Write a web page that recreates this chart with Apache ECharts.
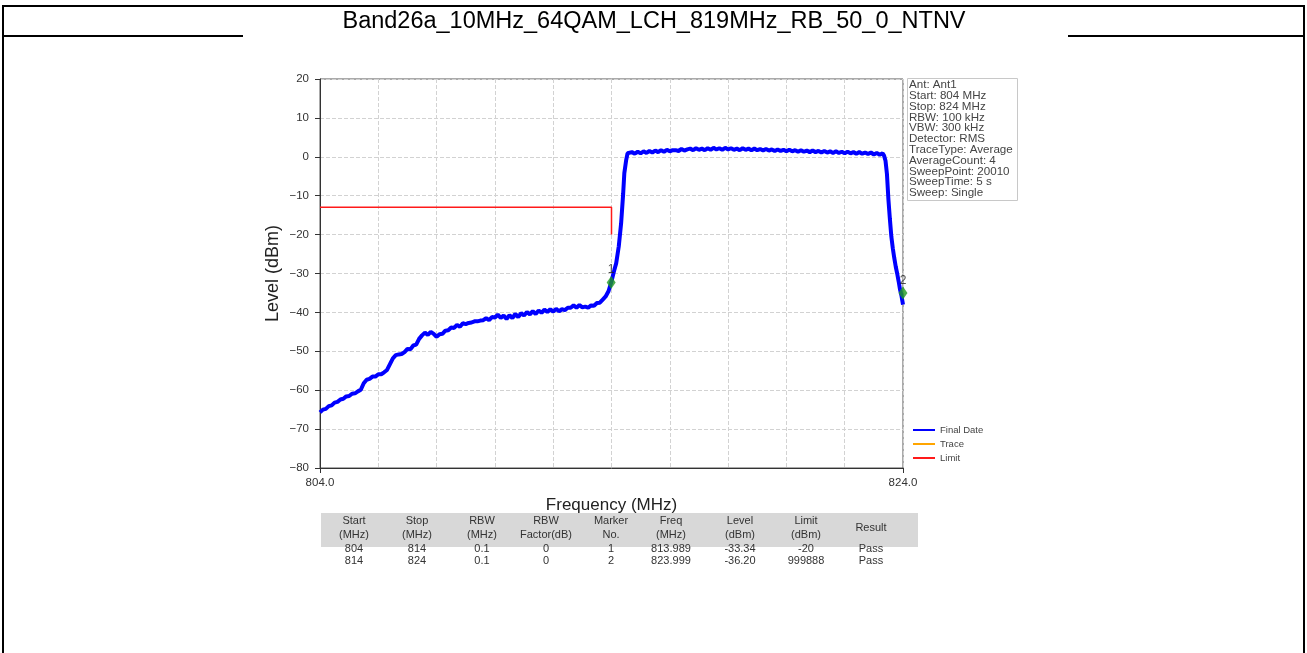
<!DOCTYPE html>
<html>
<head>
<meta charset="utf-8">
<script src="https://cdn.jsdelivr.net/npm/echarts@6/dist/echarts.min.js"></script>
<style>
html,body{margin:0;padding:0;background:#fff;}
#chart{width:1307px;height:653px;}
</style>
</head>
<body>
<div id="chart"></div>
<script>
// ---------------- DATA ----------------
var chartTitle = 'Band26a_10MHz_64QAM_LCH_819MHz_RB_50_0_NTNV';

var traceFreq = [
  804.0,804.1,804.2,804.3,804.4,804.5,804.6,804.7,804.8,804.9,
  805.0,805.1,805.2,805.3,805.4,805.5,805.6,805.7,805.8,805.9,
  806.0,806.1,806.2,806.3,806.4,806.5,806.6,806.7,806.8,806.9,
  807.0,807.1,807.2,807.3,807.4,807.5,807.6,807.7,807.8,807.9,
  808.0,808.1,808.2,808.3,808.4,808.5,808.6,808.7,808.8,808.9,
  809.0,809.1,809.2,809.3,809.4,809.5,809.6,809.7,809.8,809.9,
  810.0,810.1,810.2,810.3,810.4,810.5,810.6,810.7,810.8,810.9,
  811.0,811.1,811.2,811.3,811.4,811.5,811.6,811.7,811.8,811.9,
  812.0,812.1,812.2,812.3,812.4,812.5,812.6,812.7,812.8,812.9,
  813.0,813.1,813.2,813.3,813.4,813.5,813.6,813.7,813.8,813.9,
  814.0,814.1,814.16,814.25,814.33,814.4,814.44,814.5,814.55,814.6,
  814.7,814.8,814.9,815.0,815.1,815.2,815.3,815.4,815.5,815.6,
  815.7,815.8,815.9,816.0,816.1,816.2,816.3,816.4,816.5,816.6,
  816.7,816.8,816.9,817.0,817.1,817.2,817.3,817.4,817.5,817.6,
  817.7,817.8,817.9,818.0,818.1,818.2,818.3,818.4,818.5,818.6,
  818.7,818.8,818.9,819.0,819.1,819.2,819.3,819.4,819.5,819.6,
  819.7,819.8,819.9,820.0,820.1,820.2,820.3,820.4,820.5,820.6,
  820.7,820.8,820.9,821.0,821.1,821.2,821.3,821.4,821.5,821.6,
  821.7,821.8,821.9,822.0,822.1,822.2,822.3,822.4,822.5,822.6,
  822.7,822.8,822.9,823.0,823.1,823.2,823.3,823.35,823.4,823.45,
  823.5,823.55,823.6,823.65,823.7,823.75,823.8,823.85,823.9,823.95,
  824.0
];
var traceLevel = [
  -65.7,-65.0,-64.8,-64.1,-63.9,-63.2,-63.0,-62.4,-62.2,-61.6,
  -61.5,-60.9,-60.8,-60.3,-59.9,-58.2,-57.3,-57.1,-56.5,-56.5,
  -55.9,-55.9,-55.4,-54.8,-53.3,-51.8,-51.0,-50.8,-50.7,-50.2,
  -49.4,-49.5,-48.5,-48.3,-46.8,-45.9,-45.2,-45.8,-45.0,-45.5,
  -46.3,-45.6,-45.5,-44.7,-44.6,-43.9,-44.0,-43.2,-43.7,-42.8,
  -43.0,-42.7,-42.6,-42.3,-42.3,-42.1,-42.0,-41.5,-42.0,-41.2,
  -41.3,-40.6,-41.4,-40.8,-41.7,-40.7,-41.5,-40.4,-41.2,-40.2,
  -40.8,-39.9,-40.5,-39.7,-40.4,-39.5,-40.1,-39.3,-39.9,-39.2,
  -39.8,-39.1,-39.7,-39.2,-39.4,-38.8,-38.8,-38.2,-38.8,-38.1,
  -38.7,-38.5,-38.8,-38.2,-38.3,-37.6,-37.5,-36.7,-35.9,-34.5,
  -32.0,-29.0,-27.4,-23.0,-17.1,-9.5,-4.2,-1.0,0.9,1.0,
  1.2,0.8,1.3,0.9,1.4,1.0,1.5,1.1,1.6,1.2,
  1.7,1.3,1.8,1.4,1.7,1.7,1.5,2.0,1.6,1.9,
  2.1,1.7,2.2,1.8,2.1,1.7,2.2,1.8,2.3,1.9,
  2.2,1.8,2.3,1.9,2.2,1.8,2.1,1.7,2.2,1.8,
  2.1,1.7,2.1,1.7,2.0,1.6,2.0,1.6,1.9,1.5,
  1.9,1.5,1.8,1.4,1.8,1.4,1.7,1.3,1.7,1.3,
  1.6,1.2,1.6,1.2,1.5,1.1,1.5,1.1,1.4,1.0,
  1.4,1.0,1.3,0.9,1.3,0.9,1.2,0.8,1.2,0.8,
  1.1,0.7,1.1,0.6,1.0,0.5,0.9,0.3,-1.0,-4.5,
  -11.0,-16.0,-20.5,-23.5,-26.0,-28.2,-30.0,-32.0,-34.2,-35.8,
  -38.0
];

var limitFreq  = [804, 814, 814];
var limitLevel = [-13, -13, -20];

var markerFreq  = [813.989, 823.999];
var markerLevel = [-32.3, -35.0];
var markerLabel = ['1', '2'];

var yTicks = [-80, -70, -60, -50, -40, -30, -20, -10, 0, 10, 20];
var xTickLabels = ['804.0', '824.0'];

var infoLines = [
  'Ant: Ant1', 'Start: 804 MHz', 'Stop: 824 MHz', 'RBW: 100 kHz', 'VBW: 300 kHz',
  'Detector: RMS', 'TraceType: Average', 'AverageCount: 4', 'SweepPoint: 20010',
  'SweepTime: 5 s', 'Sweep: Single'
];

var legendNames = ['Final Date', 'Trace', 'Limit'];

var tableHead1 = ['Start', 'Stop', 'RBW', 'RBW', 'Marker', 'Freq', 'Level', 'Limit', ''];
var tableHead2 = ['(MHz)', '(MHz)', '(MHz)', 'Factor(dB)', 'No.', '(MHz)', '(dBm)', '(dBm)', ''];
var tableHeadSingle = ['', '', '', '', '', '', '', '', 'Result'];
var tableRow1 = ['804', '814', '0.1', '0', '1', '813.989', '-33.34', '-20', 'Pass'];
var tableRow2 = ['814', '824', '0.1', '0', '2', '823.999', '-36.20', '999888', 'Pass'];

// ---------------- LAYOUT ----------------
var FONT = '"Liberation Sans", Arial, sans-serif';
var colX = [354, 417, 482, 546, 611, 671, 740, 806, 871];
var txtColor = '#333';

function zip(a, b) { var r = []; for (var i = 0; i < a.length; i++) r.push([a[i], b[i]]); return r; }

var graphics = [];
// outer frame
graphics.push({ type: 'rect', shape: { x: 3, y: 6, width: 1301, height: 660 }, style: { fill: 'none', stroke: '#000', lineWidth: 2 }, z: 100 });
graphics.push({ type: 'line', shape: { x1: 3, y1: 36, x2: 243, y2: 36 }, style: { stroke: '#000', lineWidth: 2 }, z: 100 });
graphics.push({ type: 'line', shape: { x1: 1068, y1: 36, x2: 1304, y2: 36 }, style: { stroke: '#000', lineWidth: 2 }, z: 100 });
// title
graphics.push({ type: 'text', x: 654, y: 22, style: { text: chartTitle, font: '23.5px ' + FONT, fill: '#000', align: 'center', verticalAlign: 'middle' }, z: 100 });
// info box
graphics.push({ type: 'rect', shape: { x: 907.5, y: 78.5, width: 110, height: 122 }, style: { fill: '#fff', stroke: '#c8c8c8', lineWidth: 1 }, z: 50 });
graphics.push({ type: 'text', x: 909, y: 79.5, style: { text: infoLines.join('\n'), font: '11.6px ' + FONT, fill: '#444', lineHeight: 10.8, align: 'left', verticalAlign: 'top' }, z: 51 });
// table header band
graphics.push({ type: 'rect', shape: { x: 321, y: 513, width: 597, height: 34 }, style: { fill: '#d8d8d8' }, z: 10 });
for (var i = 0; i < colX.length; i++) {
  if (tableHead1[i]) graphics.push({ type: 'text', x: colX[i], y: 521, style: { text: tableHead1[i], font: '11px ' + FONT, fill: txtColor, align: 'center', verticalAlign: 'middle' }, z: 11 });
  if (tableHead2[i]) graphics.push({ type: 'text', x: colX[i], y: 535, style: { text: tableHead2[i], font: '11px ' + FONT, fill: txtColor, align: 'center', verticalAlign: 'middle' }, z: 11 });
  if (tableHeadSingle[i]) graphics.push({ type: 'text', x: colX[i], y: 528, style: { text: tableHeadSingle[i], font: '11px ' + FONT, fill: txtColor, align: 'center', verticalAlign: 'middle' }, z: 11 });
  graphics.push({ type: 'text', x: colX[i], y: 549, style: { text: tableRow1[i], font: '11px ' + FONT, fill: txtColor, align: 'center', verticalAlign: 'middle' }, z: 11 });
  graphics.push({ type: 'text', x: colX[i], y: 561, style: { text: tableRow2[i], font: '11px ' + FONT, fill: txtColor, align: 'center', verticalAlign: 'middle' }, z: 11 });
}

var chart = echarts.init(document.getElementById('chart'), null, { renderer: 'canvas' });
var option = {
  animation: false,
  backgroundColor: '#fff',
  textStyle: { fontFamily: FONT },
  grid: { left: 320, top: 79, width: 583, height: 389, show: true, borderColor: '#555', borderWidth: 1, backgroundColor: 'transparent' },
  legend: {
    data: legendNames, orient: 'vertical', left: 908, top: 420, itemWidth: 22, itemHeight: 2, itemGap: 4, icon: 'rect',
    textStyle: { fontSize: 9.5, color: '#444', fontFamily: FONT }
  },
  xAxis: [
    {
      type: 'value', min: 804, max: 824, interval: 2,
      axisLine: { show: true, onZero: false, lineStyle: { color: '#333', width: 1 } },
      axisTick: { show: false }, axisLabel: { show: false },
      splitLine: { show: true, lineStyle: { color: '#d2d2d2', type: [4, 2], width: 1 } }
    },
    {
      type: 'value', min: 804, max: 824, interval: 20, position: 'bottom',
      name: 'Frequency (MHz)', nameLocation: 'middle', nameGap: 29,
      nameTextStyle: { fontSize: 17, color: '#222', fontFamily: FONT },
      axisLine: { show: false, onZero: false },
      axisTick: { show: true, length: 5, lineStyle: { color: '#333' } },
      axisLabel: { show: true, fontSize: 11.5, color: '#333', margin: 9, formatter: function (v) { return v === 804 ? xTickLabels[0] : xTickLabels[1]; } },
      splitLine: { show: false }
    }
  ],
  yAxis: {
    type: 'value', min: -80, max: 20, interval: 10,
    name: 'Level (dBm)', nameLocation: 'middle', nameGap: 38,
    nameTextStyle: { fontSize: 18, color: '#222', fontFamily: FONT },
    axisLine: { show: true, onZero: false, lineStyle: { color: '#333', width: 1 } },
    axisTick: { show: true, length: 5, lineStyle: { color: '#333' } },
    axisLabel: { fontSize: 11.5, color: '#333', margin: 11, formatter: function (v) { return yTicks.indexOf(v) >= 0 ? String(v).replace('-', '\u2212') : ''; } },
    splitLine: { show: true, lineStyle: { color: '#d2d2d2', type: [4, 2], width: 1 } }
  },
  series: [
    { name: 'Final Date', type: 'line', xAxisIndex: 0, data: zip(traceFreq, traceLevel), showSymbol: false, symbol: 'none',
      lineStyle: { color: '#0000ff', width: 4 }, itemStyle: { color: '#0000ff' }, z: 3 },
    { name: 'Trace', type: 'line', xAxisIndex: 0, data: [], showSymbol: false, symbol: 'none',
      lineStyle: { color: '#ffa500', width: 1.5 }, itemStyle: { color: '#ffa500' } },
    { name: 'Limit', type: 'line', xAxisIndex: 0, data: zip(limitFreq, limitLevel), showSymbol: false, symbol: 'none',
      lineStyle: { color: '#ff1a1a', width: 1.5 }, itemStyle: { color: '#ff1a1a' }, z: 4 },
    { name: 'Markers', type: 'scatter', xAxisIndex: 0, data: zip(markerFreq, markerLevel), symbol: 'diamond', symbolSize: [9, 13],
      itemStyle: { color: '#1f9a1f' }, z: 5,
      label: { show: true, position: 'top', distance: 0, fontSize: 12, color: '#222', fontFamily: FONT,
        formatter: function (p) { return markerLabel[p.dataIndex]; } } }
  ],
  graphic: graphics
};
chart.setOption(option);
</script>
</body>
</html>
